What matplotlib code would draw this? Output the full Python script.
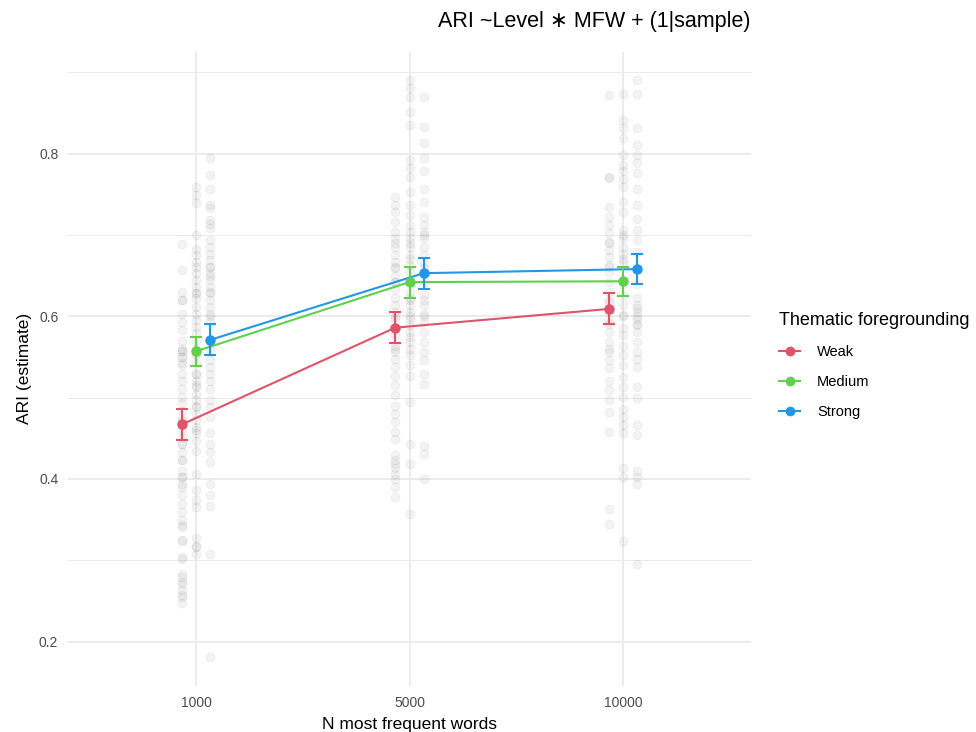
import matplotlib
matplotlib.use("Agg")
import matplotlib.pyplot as plt
from matplotlib.lines import Line2D
import numpy as np

plt.rcParams['font.family'] = ['Liberation Sans', 'DejaVu Sans']

# ---------------- data ----------------
mfw_labels = ["1000", "5000", "10000"]
levels = ["Weak", "Medium", "Strong"]
colors = {"Weak": "#DF536B", "Medium": "#61D04F", "Strong": "#2297E6"}

est_weak = [0.467, 0.586, 0.609]
lo_weak = [0.448, 0.567, 0.590]
hi_weak = [0.486, 0.605, 0.628]

est_medium = [0.557, 0.642, 0.643]
lo_medium = [0.539, 0.623, 0.625]
hi_medium = [0.575, 0.661, 0.661]

est_strong = [0.571, 0.653, 0.658]
lo_strong = [0.553, 0.634, 0.640]
hi_strong = [0.590, 0.672, 0.677]

# raw observations (grey background points)
raw_weak_1000 = [0.689, 0.657, 0.630, 0.620, 0.603, 0.593, 0.583, 0.570, 0.557, 0.557, 0.550,
                 0.550, 0.542, 0.529, 0.521, 0.511, 0.501, 0.493, 0.484, 0.472, 0.472, 0.466,
                 0.460, 0.451, 0.443, 0.443, 0.433, 0.423, 0.423, 0.410, 0.402, 0.402, 0.394,
                 0.390, 0.380, 0.369, 0.359, 0.349, 0.343, 0.341, 0.325, 0.324, 0.304, 0.302,
                 0.283, 0.279, 0.273, 0.271, 0.263, 0.257, 0.255, 0.248, 0.620, 0.560, 0.540]
raw_medium_1000 = [0.759, 0.749, 0.739, 0.700, 0.683, 0.675, 0.667, 0.661, 0.653, 0.644, 0.636,
                   0.629, 0.629, 0.622, 0.611, 0.603, 0.595, 0.587, 0.579, 0.554, 0.554, 0.542,
                   0.529, 0.529, 0.521, 0.513, 0.505, 0.497, 0.488, 0.480, 0.472, 0.464, 0.456,
                   0.447, 0.435, 0.406, 0.386, 0.374, 0.365, 0.328, 0.318, 0.316, 0.308, 0.570,
                   0.560, 0.515, 0.490, 0.460]
raw_strong_1000 = [0.794, 0.774, 0.757, 0.737, 0.733, 0.718, 0.714, 0.708, 0.694, 0.685, 0.677,
                   0.669, 0.661, 0.661, 0.653, 0.644, 0.636, 0.628, 0.620, 0.611, 0.603, 0.593,
                   0.570, 0.560, 0.546, 0.538, 0.529, 0.521, 0.511, 0.497, 0.488, 0.476, 0.456,
                   0.443, 0.433, 0.421, 0.394, 0.380, 0.367, 0.308, 0.181, 0.650, 0.630, 0.600]
raw_weak_5000 = [0.747, 0.737, 0.728, 0.716, 0.704, 0.696, 0.685, 0.675, 0.667, 0.659, 0.650,
                 0.642, 0.642, 0.634, 0.622, 0.614, 0.605, 0.597, 0.585, 0.577, 0.564, 0.556,
                 0.548, 0.538, 0.527, 0.515, 0.503, 0.490, 0.480, 0.470, 0.458, 0.449, 0.429,
                 0.423, 0.419, 0.413, 0.406, 0.400, 0.390, 0.378, 0.690, 0.660, 0.600, 0.560]
raw_medium_5000 = [0.890, 0.880, 0.870, 0.851, 0.835, 0.792, 0.782, 0.771, 0.753, 0.737, 0.724,
                   0.712, 0.704, 0.696, 0.685, 0.675, 0.663, 0.655, 0.630, 0.622, 0.614, 0.605,
                   0.597, 0.589, 0.581, 0.568, 0.552, 0.540, 0.527, 0.495, 0.443, 0.419, 0.357,
                   0.690, 0.670, 0.645, 0.620, 0.600, 0.575, 0.560]
raw_strong_5000 = [0.870, 0.833, 0.813, 0.794, 0.778, 0.757, 0.741, 0.722, 0.712, 0.704, 0.696,
                   0.685, 0.675, 0.659, 0.642, 0.626, 0.614, 0.603, 0.593, 0.581, 0.568, 0.556,
                   0.546, 0.529, 0.517, 0.441, 0.431, 0.400, 0.700, 0.665, 0.620, 0.600]
raw_weak_10000 = [0.872, 0.771, 0.734, 0.722, 0.712, 0.702, 0.691, 0.681, 0.673, 0.663, 0.655,
                  0.642, 0.630, 0.618, 0.605, 0.593, 0.581, 0.568, 0.556, 0.546, 0.536, 0.521,
                  0.509, 0.497, 0.482, 0.458, 0.363, 0.345, 0.770, 0.690, 0.660, 0.620, 0.590,
                  0.560]
raw_medium_10000 = [0.873, 0.841, 0.831, 0.819, 0.798, 0.786, 0.778, 0.769, 0.759, 0.741, 0.728,
                    0.706, 0.696, 0.685, 0.677, 0.667, 0.626, 0.614, 0.601, 0.585, 0.577, 0.564,
                    0.552, 0.540, 0.525, 0.513, 0.501, 0.486, 0.476, 0.466, 0.456, 0.413, 0.402,
                    0.324, 0.700, 0.670, 0.640, 0.600]
raw_strong_10000 = [0.890, 0.873, 0.831, 0.810, 0.798, 0.788, 0.776, 0.757, 0.737, 0.720, 0.706,
                    0.694, 0.679, 0.659, 0.622, 0.614, 0.605, 0.597, 0.589, 0.581, 0.568, 0.556,
                    0.548, 0.538, 0.513, 0.499, 0.466, 0.454, 0.410, 0.402, 0.394, 0.296, 0.610,
                    0.600, 0.590, 0.640]

raw = {
    "Weak": [raw_weak_1000, raw_weak_5000, raw_weak_10000],
    "Medium": [raw_medium_1000, raw_medium_5000, raw_medium_10000],
    "Strong": [raw_strong_1000, raw_strong_5000, raw_strong_10000],
}
est = {"Weak": est_weak, "Medium": est_medium, "Strong": est_strong}
lo = {"Weak": lo_weak, "Medium": lo_medium, "Strong": lo_strong}
hi = {"Weak": hi_weak, "Medium": hi_medium, "Strong": hi_strong}

# ---------------- figure ----------------
W, H = 976, 732
fig = plt.figure(figsize=(W / 100, H / 100), dpi=100)
fig.patch.set_facecolor("white")
ax = fig.add_axes([68 / W, (H - 686) / H, (751 - 68) / W, (686 - 51.5) / H])
ax.set_facecolor("white")

xs = np.arange(1, len(mfw_labels) + 1)
dodge = {"Weak": -0.0667, "Medium": 0.0, "Strong": 0.0667}

all_vals = []
for lev in levels:
    for i, vals in enumerate(raw[lev]):
        all_vals.extend(vals)
        ax.scatter(np.full(len(vals), xs[i] + dodge[lev]), vals, s=40,
                   facecolor=(0.5, 0.5, 0.5, 0.09), edgecolor=(0.5, 0.5, 0.5, 0.11),
                   linewidths=0.6, zorder=2)

for lev in levels:
    x = xs + dodge[lev]
    e = np.array(est[lev])
    yerr = np.vstack([e - np.array(lo[lev]), np.array(hi[lev]) - e])
    ax.plot(x, e, color=colors[lev], lw=1.5, zorder=3)
    ax.errorbar(x, e, yerr=yerr, fmt='none', ecolor=colors[lev], elinewidth=1.5,
                capsize=4, capthick=1.5, zorder=4)
    ax.plot(x, e, 'o', color=colors[lev], ms=6.5, zorder=5)

ymin, ymax = min(all_vals), max(all_vals)
rng = ymax - ymin
ax.set_ylim(ymin - 0.05 * rng, ymax + 0.05 * rng)
ax.set_xlim(0.4, 3.6)

ax.set_xticks(xs)
ax.set_xticklabels(mfw_labels)
ax.set_yticks([0.2, 0.4, 0.6, 0.8])
ax.set_yticklabels(["0.2", "0.4", "0.6", "0.8"])
ax.set_yticks([0.3, 0.5, 0.7, 0.9], minor=True)
ax.grid(True, which="major", color="#EBEBEB", lw=1.4, zorder=0)
ax.grid(True, which="minor", axis="y", color="#EBEBEB", lw=0.7, zorder=0)
ax.set_axisbelow(True)
for s in ax.spines.values():
    s.set_visible(False)
ax.tick_params(which="both", length=0, labelsize=10, labelcolor="#4D4D4D", pad=7)

ax.set_xlabel("N most frequent words", fontsize=12.5, labelpad=5)
ax.set_ylabel("ARI (estimate)", fontsize=12.5, labelpad=5)

fig.text(751 / W, (H - 22) / H, "ARI ~Level \u2217 MFW + (1|sample)",
         ha="right", va="center", fontsize=15.5)

handles = [Line2D([0], [0], color=colors[l], lw=1.5, marker='o', ms=6) for l in levels]
leg = fig.legend(handles, levels, title="Thematic foregrounding", loc="upper left",
                 bbox_to_anchor=(766 / W, (H - 299) / H), frameon=False,
                 fontsize=10.5, title_fontsize=13, handlelength=1.45,
                 labelspacing=1.1, handletextpad=1.15)
leg._legend_box.align = "left"

fig.savefig("out.png", dpi=100, facecolor="white")
